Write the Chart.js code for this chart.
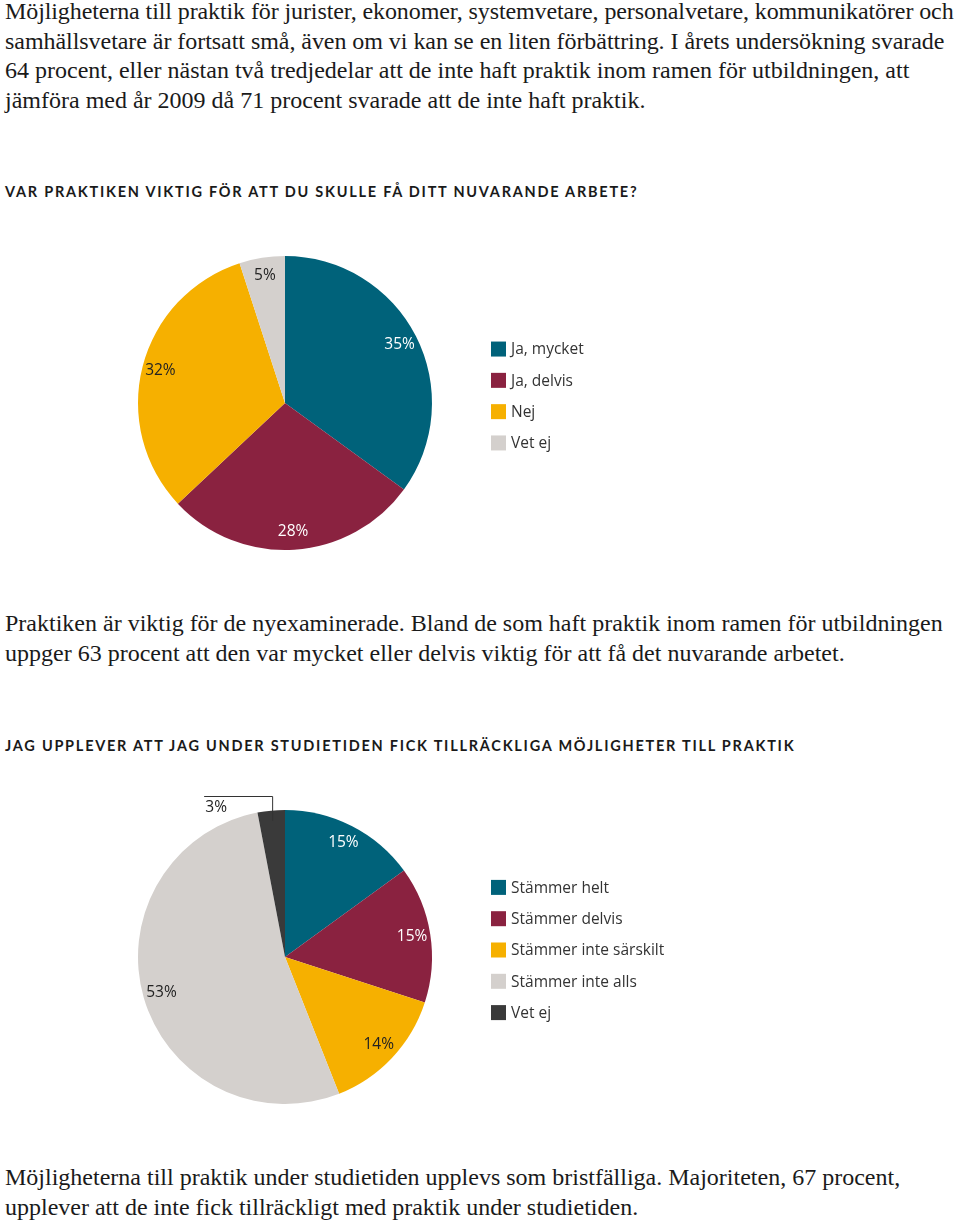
<!DOCTYPE html>
<html lang="sv">
<head>
<meta charset="utf-8">
<script src="https://cdn.jsdelivr.net/npm/chart.js@4.4.1/dist/chart.umd.min.js"></script>
<style>
    body { margin: 0; background: #fff; width: 960px; height: 1223px; position: relative; overflow: hidden; }
    .para { position: absolute; left: 5px; font-family: "Liberation Serif", serif; font-size: 24px; line-height: 29.5px; color: #1a1a1a; white-space: nowrap; }
    .heading { position: absolute; left: 5px; font-family: "Lato", sans-serif; font-weight: 700; font-size: 14.5px; letter-spacing: 1.75px; color: #1a1a1a; white-space: nowrap; }
    .pieBox { position: absolute; left: 118px; width: 600px; height: 334px; }
</style>
</head>
<body>

<div class="para" style="top:-3px">
<span style="letter-spacing:-0.1px">Möjligheterna till praktik för jurister, ekonomer, systemvetare, personalvetare, kommunikatörer och</span><br>
<span style="letter-spacing:-0.05px">samhällsvetare är fortsatt små, även om vi kan se en liten förbättring. I årets undersökning svarade</span><br>
64 procent, eller nästan två tredjedelar att de inte haft praktik inom ramen för utbildningen, att<br>
jämföra med år 2009 då 71 procent svarade att de inte haft praktik.
</div>

<div class="heading" style="top:183px">VAR PRAKTIKEN VIKTIG FÖR ATT DU SKULLE FÅ DITT NUVARANDE ARBETE?</div>

<div class="pieBox" style="top:236px"><canvas id="pie1"></canvas></div>

<div class="para" style="top:609px">
Praktiken är viktig för de nyexaminerade. Bland de som haft praktik inom ramen för utbildningen<br>
uppger 63 procent att den var mycket eller delvis viktig för att få det nuvarande arbetet.
</div>

<div class="heading" style="top:737px">JAG UPPLEVER ATT JAG UNDER STUDIETIDEN FICK TILLRÄCKLIGA MÖJLIGHETER TILL PRAKTIK</div>

<div class="pieBox" style="top:790px"><canvas id="pie2"></canvas></div>

<div class="para" style="top:1163px">
Möjligheterna till praktik under studietiden upplevs som bristfälliga. Majoriteten, 67 procent,<br>
upplever att de inte fick tillräckligt med praktik under studietiden.
</div>

<script>
// Data
const labels1 = ["Ja, mycket", "Ja, delvis", "Nej", "Vet ej"];
const values1 = [35, 28, 32, 5];

const labels2 = ["Stämmer helt", "Stämmer delvis", "Stämmer inte särskilt", "Stämmer inte alls", "Vet ej"];
const values2 = [15, 15, 14, 53, 3];

// Styles
const TEAL = "#00627a";
const MAROON = "#8a2240";
const YELLOW = "#f6b000";
const LIGHT = "#d4d0cd";
const DARK = "#3a3a3a";

const colors1 = [TEAL, MAROON, YELLOW, LIGHT];
const textColors1 = ["#ffffff", "#ffffff", "#222222", "#222222"];
const colors2 = [TEAL, MAROON, YELLOW, LIGHT, DARK];
const textColors2 = ["#ffffff", "#ffffff", "#222222", "#222222", "#222222"];

const LABEL_FONT = '15.5px "Open Sans", sans-serif';
const PIE_PAD = { left: 20, top: 20, right: 286, bottom: 20 };

// Percent labels on the slices, small slices get a callout line
const sliceLabels = {
    id: "sliceLabels",
    afterDatasetsDraw(chart, args, opts) {
        const ctx = chart.ctx;
        const meta = chart.getDatasetMeta(0);
        const values = chart.data.datasets[0].data;

        ctx.save();
        ctx.font = LABEL_FONT;
        ctx.textAlign = "center";
        ctx.textBaseline = "middle";

        meta.data.forEach((arc, i) => {
            const mid = (arc.startAngle + arc.endAngle) / 2;
            const text = values[i] + "%";

            if (values[i] < 4) {
                const px = arc.x + Math.cos(mid) * arc.outerRadius * 0.93;
                const py = arc.y + Math.sin(mid) * arc.outerRadius * 0.93;
                const lineY = arc.y - arc.outerRadius - 14;
                ctx.strokeStyle = "#333";
                ctx.lineWidth = 1;
                ctx.beginPath();
                ctx.moveTo(px + 0.5, py);
                ctx.lineTo(px + 0.5, lineY + 0.5);
                ctx.lineTo(px - 68, lineY + 0.5);
                ctx.stroke();
                ctx.fillStyle = "#222";
                ctx.fillText(text, px - 56, lineY + 12);
                return;
            }

            const r = arc.outerRadius * 0.875;
            ctx.fillStyle = opts.textColors[i];
            ctx.fillText(text, arc.x + Math.cos(mid) * r, arc.y + Math.sin(mid) * r);
        });
        ctx.restore();
    }
};

// Legend to the right of the pie
const sideLegend = {
    id: "sideLegend",
    afterDraw(chart) {
        const ctx = chart.ctx;
        const area = chart.chartArea;
        const ds = chart.data.datasets[0];
        const n = chart.data.labels.length;
        const step = 31.3;
        const x = area.right + 59;
        const y0 = (area.top + area.bottom) / 2 - 7 - step * (n - 1) / 2;

        ctx.save();
        ctx.font = LABEL_FONT;
        ctx.textAlign = "left";
        ctx.textBaseline = "middle";
        chart.data.labels.forEach((label, i) => {
            const y = y0 + i * step;
            ctx.fillStyle = ds.backgroundColor[i];
            ctx.fillRect(x, y - 7.5, 15, 15);
            ctx.fillStyle = "#333";
            ctx.fillText(label, x + 20, y + 1);
        });
        ctx.restore();
    }
};

function makePie(id, labels, values, colors, textColors) {
    return new Chart(document.getElementById(id), {
        type: "pie",
        data: {
            labels: labels,
            datasets: [{
                data: values,
                backgroundColor: colors,
                borderWidth: 0
            }]
        },
        options: {
            responsive: true,
            maintainAspectRatio: false,
            animation: false,
            layout: { padding: PIE_PAD },
            plugins: {
                legend: { display: false },
                tooltip: { enabled: false },
                sliceLabels: { textColors: textColors }
            }
        },
        plugins: [sliceLabels, sideLegend]
    });
}

makePie("pie1", labels1, values1, colors1, textColors1);
makePie("pie2", labels2, values2, colors2, textColors2);
</script>
</body>
</html>
